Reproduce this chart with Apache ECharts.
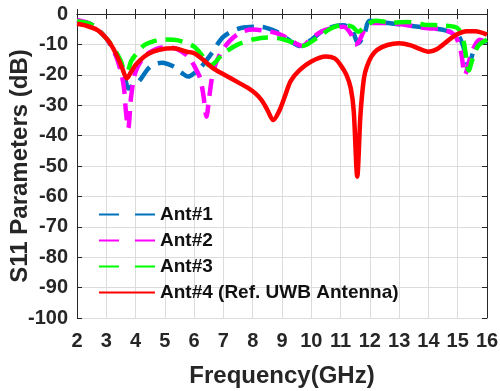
<!DOCTYPE html>
<html>
<head>
<meta charset="utf-8">
<script src="https://cdn.jsdelivr.net/npm/echarts@6/dist/echarts.min.js"></script>
<style>
  html, body { margin: 0; padding: 0; background: #fff; }
  #chart { width: 500px; height: 391px; }
</style>
</head>
<body>
<div id="chart"></div>
<script>
// ── Data ──────────────────────────────────────────────────────────────────────

const seriesNames = ['Ant#1', 'Ant#2', 'Ant#3', 'Ant#4 (Ref. UWB Antenna)']

const freqAnt1 = [2, 2.5, 3, 3.3, 3.5, 3.65, 3.75, 3.9, 4.1, 4.5, 4.9, 5.3, 5.55, 5.8, 6.0, 6.25, 6.6, 7.0, 7.6, 8.25, 8.8, 9.3, 9.6, 10.0, 10.4, 10.8, 11.1, 11.4, 11.6, 11.8, 12.0, 12.5, 13.0, 13.5, 14.0, 14.5, 15.0, 15.2, 15.37, 15.55, 15.75, 16]
const s11Ant1 = [-2.4, -3.5, -8, -13, -17.5, -21.5, -24.5, -23.5, -22.3, -17.3, -16, -17.3, -19.2, -20.6, -19.5, -17.3, -12.9, -7.5, -4.6, -4.2, -5.8, -9, -10.5, -8.5, -5.5, -4, -3.7, -5.5, -9.6, -7, -2.2, -2.8, -3.4, -4, -4.6, -5.2, -7, -11, -17, -12, -9.5, -9]

const freqAnt2 = [2, 2.5, 3, 3.3, 3.5, 3.6, 3.67, 3.75, 3.85, 4.0, 4.3, 4.7, 5.0, 5.4, 5.8, 6.0, 6.2, 6.32, 6.42, 6.52, 6.65, 6.9, 7.25, 7.6, 8.0, 8.6, 9.0, 9.4, 9.7, 10.0, 10.4, 10.8, 11.1, 11.35, 11.5, 11.62, 11.8, 12.0, 12.5, 13.0, 13.5, 14.0, 14.5, 14.9, 15.1, 15.25, 15.4, 15.55, 15.75, 16]
const s11Ant2 = [-2, -3.5, -8, -13, -19, -24, -32, -37.6, -27, -19, -14, -11.5, -11, -11.5, -14, -17, -21, -27, -33.8, -27, -19, -12.9, -8.5, -6, -5.1, -5.8, -7, -9.3, -10.5, -8, -5.5, -4.5, -4.2, -6.5, -10, -9.2, -5.5, -3, -3, -3.3, -4, -4.7, -5.1, -7, -12, -20, -15, -11, -8.5, -9.5]

const freqAnt3 = [2, 2.5, 3, 3.3, 3.5, 3.6, 3.7, 3.85, 4.0, 4.3, 4.6, 4.9, 5.3, 5.6, 6.0, 6.3, 6.5, 6.65, 7.0, 7.5, 8.0, 8.5, 9.0, 9.4, 9.7, 10.2, 10.7, 11.1, 11.4, 11.6, 11.85, 12.2, 12.7, 13.3, 13.85, 14.5, 15.0, 15.2, 15.38, 15.5, 15.7, 16]
const s11Ant3 = [-2.4, -3.5, -8, -12, -15.5, -18.5, -19, -15.5, -13.4, -10.2, -9, -8.4, -8.5, -9.1, -10.75, -14, -16.8, -16.5, -13, -10, -8.4, -7.7, -8.2, -9.5, -10.5, -7.8, -4.6, -3.6, -4.2, -5.8, -4, -2.2, -2.8, -2.6, -3.5, -3.8, -4.7, -9, -18.6, -15, -10.5, -8.5]

const freqAnt4 = [2, 2.3, 2.7, 3.0, 3.2, 3.4, 3.55, 3.7, 3.85, 4.0, 4.3, 4.6, 5.0, 5.3, 5.75, 6.0, 6.3, 6.65, 7.0, 7.5, 7.85, 8.1, 8.3, 8.5, 8.7, 8.9, 9.1, 9.3, 9.6, 10.0, 10.5, 10.8, 11.0, 11.2, 11.35, 11.45, 11.57, 11.68, 11.8, 11.9, 12.05, 12.25, 12.6, 13.0, 13.4, 13.7, 14.0, 14.3, 14.7, 15.0, 15.3, 15.6, 16]
const s11Ant4 = [-3.2, -3.8, -5.3, -8, -10.7, -14.5, -18, -21.2, -19, -16.8, -14, -12.4, -11.4, -11.3, -12.4, -12.9, -15, -17.9, -19.8, -22.5, -24.4, -26.2, -28.3, -31.5, -34.9, -32, -27, -22, -18.5, -15.6, -14, -14.6, -16.8, -20, -24.5, -32, -53.5, -33, -21, -17.3, -14, -11.8, -10.2, -9.6, -10.3, -11.5, -12.4, -11.5, -8.5, -6.6, -5.7, -5.7, -6.8]

// ── Helpers ───────────────────────────────────────────────────────────────────

const zip = (xs, ys) => xs.map((x, i) => [x, ys[i]])

const textColor = '#262626'
const font = 'Liberation Sans'

function lineSeries(name, data, color, dashed) {
  return {
    type: 'line',
    name,
    data,
    symbol: 'none',
    smooth: 0.3,
    lineStyle: { color, width: 4.5, type: dashed ? [17, 9] : 'solid' },
    itemStyle: { color },
  }
}

const frameAxis = {
  axisLine: { show: true, lineStyle: { color: textColor, width: 1 } },
  axisTick: { show: true, inside: true, length: 5, lineStyle: { color: textColor } },
  axisLabel: { show: false },
  splitLine: { show: false },
}

// ── Chart ─────────────────────────────────────────────────────────────────────

const chart = echarts.init(document.getElementById('chart'), null, { renderer: 'canvas' })

chart.setOption({
  animation: false,
  backgroundColor: '#fff',
  textStyle: { fontFamily: font },
  grid: { left: 77, right: 13, top: 14, bottom: 73, containLabel: false, outerBoundsMode: 'none' },
  legend: {
    orient: 'vertical',
    left: 93,
    top: 200,
    itemWidth: 56,
    itemHeight: 20,
    itemGap: 7,
    itemStyle: { opacity: 0 },
    textStyle: { fontFamily: font, fontSize: 19, fontWeight: 'bold', color: '#111' },
    data: [
      { name: seriesNames[0], lineStyle: { type: [20, 16] } },
      { name: seriesNames[1], lineStyle: { type: [20, 16] } },
      { name: seriesNames[2], lineStyle: { type: [20, 16] } },
      { name: seriesNames[3] },
    ],
  },
  xAxis: [
    {
      type: 'value',
      min: 2,
      max: 16,
      interval: 1,
      name: 'Frequency(GHz)',
      nameLocation: 'middle',
      nameGap: 46,
      nameMoveOverlap: false,
      nameTextStyle: { fontFamily: font, fontSize: 24, fontWeight: 'bold', color: textColor },
      axisLine: { show: true, lineStyle: { color: textColor, width: 1 } },
      axisTick: { show: true, inside: true, length: 5, lineStyle: { color: textColor } },
      axisLabel: { margin: 13, fontFamily: font, fontSize: 20, fontWeight: 'bold', color: textColor },
      splitLine: { show: true, lineStyle: { color: '#dcdcdc', width: 1 } },
    },
    { type: 'value', position: 'top', min: 2, max: 16, interval: 1, ...frameAxis },
  ],
  yAxis: [
    {
      type: 'value',
      min: -100,
      max: 0,
      interval: 10,
      name: 'S11 Parameters (dB)',
      nameLocation: 'middle',
      nameGap: 45,
      nameMoveOverlap: false,
      nameTextStyle: { fontFamily: font, fontSize: 24, fontWeight: 'bold', color: textColor },
      axisLine: { show: true, lineStyle: { color: textColor, width: 1 } },
      axisTick: { show: true, inside: true, length: 5, lineStyle: { color: textColor } },
      axisLabel: { margin: 9, fontFamily: font, fontSize: 20, fontWeight: 'bold', color: textColor },
      splitLine: { show: true, lineStyle: { color: '#dcdcdc', width: 1 } },
    },
    { type: 'value', position: 'right', min: -100, max: 0, interval: 10, ...frameAxis },
  ],
  series: [
    lineSeries(seriesNames[0], zip(freqAnt1, s11Ant1), '#0072BD', true),
    lineSeries(seriesNames[1], zip(freqAnt2, s11Ant2), '#FF00FF', true),
    lineSeries(seriesNames[2], zip(freqAnt3, s11Ant3), '#00FF00', true),
    lineSeries(seriesNames[3], zip(freqAnt4, s11Ant4), '#FF0000', false),
  ],
})
</script>
</body>
</html>
